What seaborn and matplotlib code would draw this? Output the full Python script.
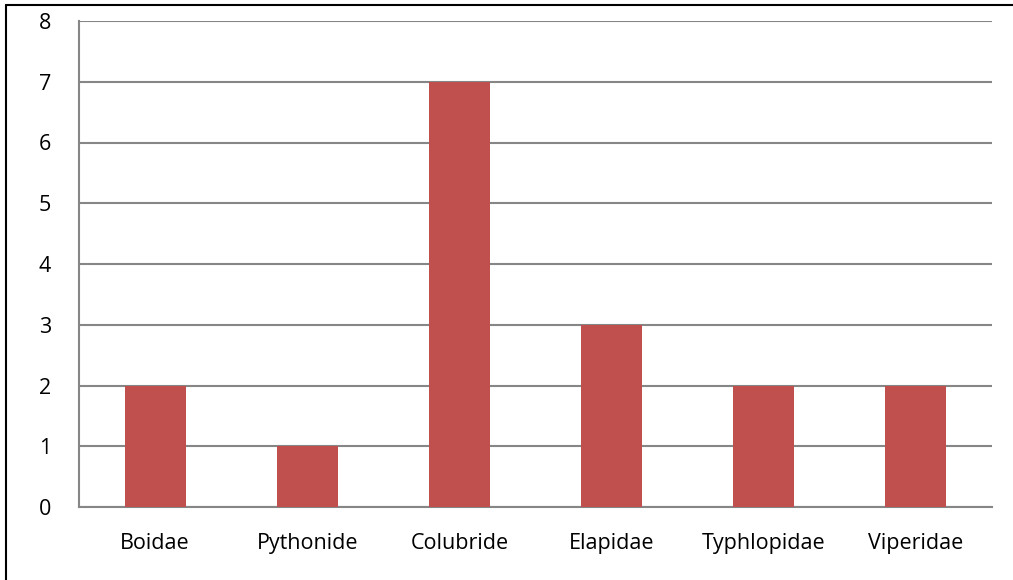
import matplotlib
matplotlib.use("Agg")
import matplotlib.pyplot as plt
import seaborn as sns
import pandas as pd

families = ["Boidae", "Pythonide", "Colubride", "Elapidae", "Typhlopidae", "Viperidae"]
counts = [2, 1, 7, 3, 2, 2]

df = pd.DataFrame({"family": families, "count": counts})

sns.set_style("white")
plt.rcParams['font.family'] = ['Open Sans', 'DejaVu Sans']

fig = plt.figure(figsize=(10.13, 5.8), dpi=100)
ax = fig.add_axes([79 / 1013, 1 - 507 / 580, (992 - 79) / 1013, (507 - 21) / 580])

sns.barplot(data=df, x="family", y="count", color="#C0504D", width=0.4,
            saturation=1, linewidth=0, ax=ax, zorder=3)

ax.set_ylim(0, 8)
ax.set_yticks(range(0, 9))
ax.yaxis.grid(True, color="#868686", linewidth=1.5, zorder=0)
ax.set_axisbelow(True)
ax.set_xlabel("")
ax.set_ylabel("")
for s in ["top", "right"]:
    ax.spines[s].set_visible(False)
for s in ["left", "bottom"]:
    ax.spines[s].set_color("#868686")
    ax.spines[s].set_linewidth(1.5)
ax.tick_params(axis="both", length=0, labelsize=15.5, colors="black")
ax.tick_params(axis="y", pad=20)
ax.tick_params(axis="x", pad=19)

# outer border lines (top and left) as in the screenshot
fig.add_artist(plt.Line2D([6 / 1013, 1], [1 - 5 / 580, 1 - 5 / 580], color="black", linewidth=1.5))
fig.add_artist(plt.Line2D([6 / 1013, 6 / 1013], [0, 1 - 5 / 580], color="black", linewidth=1.5))

fig.savefig("out.png", dpi=100)
